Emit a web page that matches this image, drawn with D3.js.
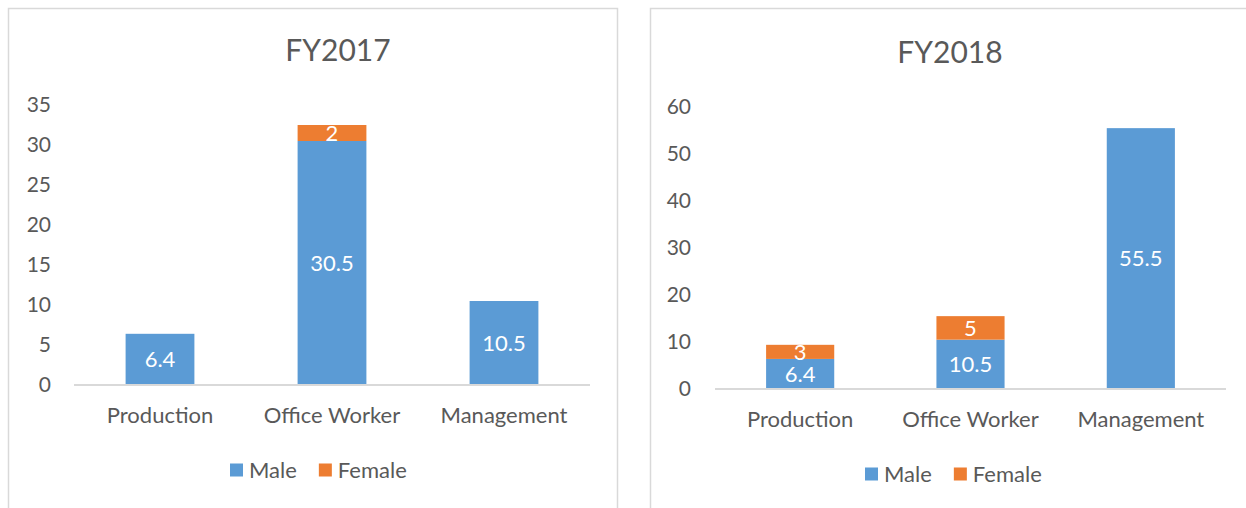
<!DOCTYPE html>
<html lang="en">
<head>
  <meta charset="UTF-8">
  <title>FY2017 / FY2018</title>
  <script src="https://d3js.org/d3.v7.min.js"></script>
  <style>
    body { margin: 0; background: #fff; }
    svg text { font-family: Lato, "Open Sans", sans-serif; }
  </style>
</head>
<body>
<svg width="1246" height="508"></svg>
<script>
// chart data
var categories = ["Production", "Office Worker", "Management"]
var seriesNames = ["Male", "Female"]
var colors = ["#5b9bd5", "#ed7d31"]

var male2017 = [6.4, 30.5, 10.5]
var female2017 = [0, 2, 0]
var ticks2017 = [0, 5, 10, 15, 20, 25, 30, 35]

var male2018 = [6.4, 10.5, 55.5]
var female2018 = [3, 5, 0]
var ticks2018 = [0, 10, 20, 30, 40, 50, 60]

var svg = d3.select("svg")
var textColor = "#595959"

function drawChart(opt) {
  var g = svg.append("g")

  // panel border
  g.append("rect")
    .attr("x", opt.panel[0] + 0.5).attr("y", opt.panel[1] + 0.5)
    .attr("width", opt.panel[2]).attr("height", opt.panel[3])
    .attr("fill", "#fff").attr("stroke", "#d9d9d9").attr("stroke-width", 1.5)

  var x = d3.scaleBand()
    .domain(categories)
    .range([opt.left, opt.right])
    .paddingInner(0.6)
    .paddingOuter(0.3)

  var yMax = opt.ticks[opt.ticks.length - 1]
  var y = d3.scaleLinear().domain([0, yMax]).range([opt.base, opt.top])

  // y tick labels (no axis line)
  var yAxis = d3.axisLeft(y).tickValues(opt.ticks).tickSize(0).tickPadding(0)
  var ya = g.append("g")
    .attr("transform", "translate(" + opt.tickX + ",0)")
    .call(yAxis)
  ya.select(".domain").remove()
  ya.selectAll("text")
    .attr("fill", textColor)
    .style("font-size", "21px")

  // stacked data
  var rows = categories.map(function(c, i) {
    return { cat: c, Male: opt.male[i], Female: opt.female[i] }
  })
  var stacked = d3.stack().keys(seriesNames)(rows)

  stacked.forEach(function(layer, li) {
    g.append("g").selectAll("rect")
      .data(layer)
      .enter()
      .append("rect")
      .attr("x", function(d) { return x(d.data.cat) })
      .attr("width", x.bandwidth())
      .attr("y", function(d) { return y(d[1]) })
      .attr("height", function(d) { return y(d[0]) - y(d[1]) })
      .attr("fill", colors[li])

    g.append("g").selectAll("text")
      .data(layer.filter(function(d) { return d[1] - d[0] > 0 }))
      .enter()
      .append("text")
      .attr("x", function(d) { return x(d.data.cat) + x.bandwidth() / 2 })
      .attr("y", function(d) { return (y(d[0]) + y(d[1])) / 2 })
      .attr("dy", "0.35em")
      .attr("text-anchor", "middle")
      .attr("fill", "#fff")
      .style("font-size", "22px")
      .text(function(d) { return d[1] - d[0] })
  })

  // category axis
  var xa = g.append("g")
    .attr("transform", "translate(0," + opt.base + ")")
    .call(d3.axisBottom(x).tickSize(0).tickPadding(opt.labelPad))
  xa.select(".domain")
    .attr("stroke", "#d9d9d9").attr("stroke-width", 2)
    .attr("d", "M" + opt.left + ",0H" + opt.right)
  xa.selectAll("text")
    .attr("fill", textColor)
    .style("font-size", "22px")

  // title
  g.append("text")
    .attr("x", opt.titleX).attr("y", opt.titleY)
    .attr("text-anchor", "middle")
    .attr("fill", textColor)
    .style("font-size", "30px")
    .text(opt.title)

  // legend
  var lg = g.append("g")
  var cx = 0
  seriesNames.forEach(function(s, i) {
    lg.append("rect")
      .attr("x", cx).attr("y", -6.5)
      .attr("width", 13).attr("height", 13)
      .attr("fill", colors[i])
    var t = lg.append("text")
      .attr("x", cx + 19).attr("y", 0)
      .attr("dy", "0.35em")
      .attr("fill", textColor)
      .style("font-size", "22px")
      .text(s)
    cx += 19 + t.node().getComputedTextLength() + 22
  })
  lg.attr("transform", "translate(" + opt.legendX + "," + opt.legendY + ")")
}

drawChart({
  title: "FY2017", male: male2017, female: female2017, ticks: ticks2017,
  panel: [8, 8, 609, 520],
  left: 74, right: 590, base: 385, top: 105, tickX: 51,
  labelPad: 22, titleX: 338, titleY: 61, legendX: 230, legendY: 470
})

drawChart({
  title: "FY2018", male: male2018, female: female2018, ticks: ticks2018,
  panel: [650, 8, 620, 520],
  left: 715, right: 1226, base: 389, top: 107, tickX: 691,
  labelPad: 22, titleX: 950, titleY: 63, legendX: 865, legendY: 474
})
</script>
</body>
</html>
